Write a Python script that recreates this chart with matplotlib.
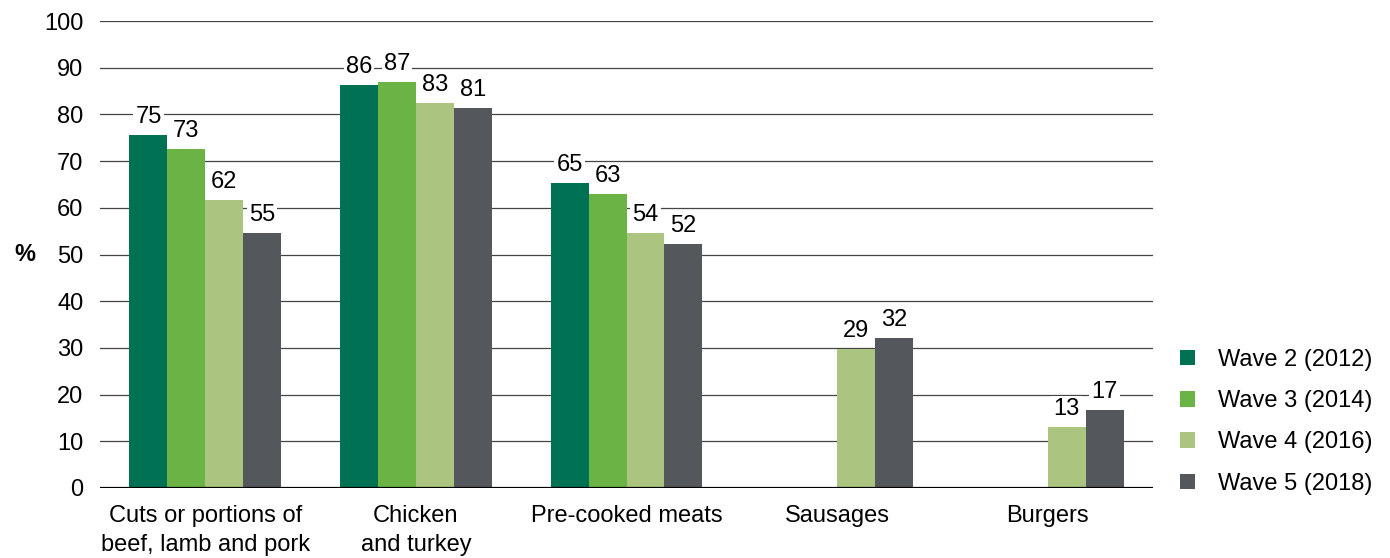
import matplotlib.pyplot as plt
import numpy as np

plt.rcParams['font.family'] = ['Liberation Sans', 'DejaVu Sans']

categories = ['Cuts or portions of\nbeef, lamb and pork', 'Chicken\nand turkey',
              'Pre-cooked meats', 'Sausages', 'Burgers']
waves = ['Wave 2 (2012)', 'Wave 3 (2014)', 'Wave 4 (2016)', 'Wave 5 (2018)']
colors = ['#007152', '#6bb345', '#abc47f', '#54575c']

# bar heights and the printed labels
heights = [
    [75.6, 86.3, 65.3, np.nan, np.nan],
    [72.6, 86.9, 63.0, np.nan, np.nan],
    [61.7, 82.4, 54.6, 29.8, 13.0],
    [54.6, 81.4, 52.2, 32.1, 16.7],
]
labels = [
    [75, 86, 65, None, None],
    [73, 87, 63, None, None],
    [62, 83, 54, 29, 13],
    [55, 81, 52, 32, 17],
]

fig = plt.figure(figsize=(13.9, 5.58), dpi=100)
ax = fig.add_axes([100 / 1390, 1 - 488 / 558, 1053 / 1390, 467 / 558])

fs = 17
x = np.arange(len(categories))
width = 0.18
for i, wave in enumerate(waves):
    pos = x + (i - 1.5) * width
    ax.bar(pos, heights[i], width, color=colors[i], label=wave, zorder=2)
    for p, h, lab in zip(pos, heights[i], labels[i]):
        if lab is None:
            continue
        ax.annotate(str(lab), (p, h), xytext=(0, 5), textcoords='offset points',
                    ha='center', va='bottom', fontsize=fs, zorder=4,
                    bbox=dict(facecolor='white', edgecolor='none', pad=1.5))

ax.set_xlim(-0.5, len(categories) - 0.5)
ax.set_ylim(0, 100)
ax.set_yticks(range(0, 101, 10))
ax.grid(axis='y', color='#444444', linewidth=0.9, zorder=0)
ax.axhline(0, color='black', linewidth=1.6, zorder=3)
for s in ax.spines.values():
    s.set_visible(False)
ax.tick_params(length=0, labelsize=fs)
ax.tick_params(axis='y', pad=12)
ax.tick_params(axis='x', pad=12)
ax.set_xticks(x)
ax.set_xticklabels(categories, linespacing=1.45)
ax.set_ylabel('%', rotation=0, fontsize=fs, fontweight='bold', labelpad=14, va='center')

ax.legend(loc='lower left', bbox_to_anchor=(1.005, -0.06), frameon=False, fontsize=fs,
          handlelength=0.65, handleheight=0.65, handletextpad=1.0, labelspacing=0.82)

fig.savefig('out.png', dpi=100)
